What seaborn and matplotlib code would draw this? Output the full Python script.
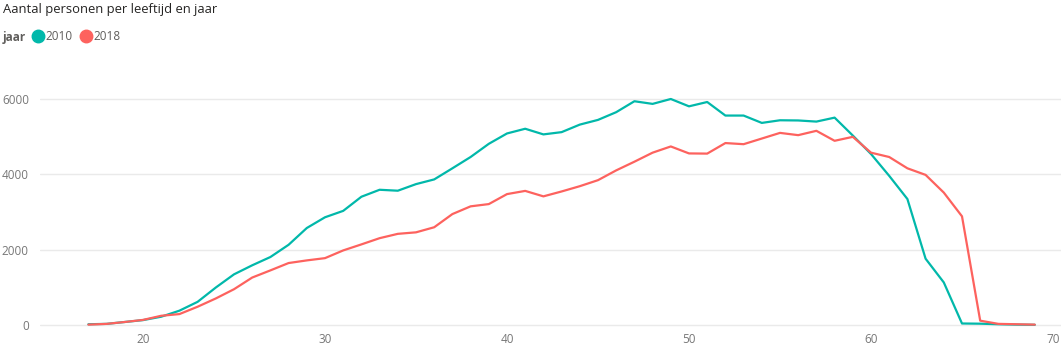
import pandas as pd
import matplotlib
matplotlib.use('Agg')
import matplotlib.pyplot as plt
from matplotlib.lines import Line2D
import seaborn as sns

# Age (leeftijd) and number of persons per year
leeftijd = list(range(17, 70))
aantal_2010 = [20, 30, 80, 130, 220, 380, 615, 995, 1345, 1585, 1805, 2130, 2575, 2860, 3030,
               3405, 3590, 3565, 3740, 3865, 4160, 4460, 4810, 5085, 5210, 5060, 5120, 5320,
               5445, 5650, 5940, 5870, 6000, 5805, 5920, 5560, 5560, 5365, 5435, 5430, 5400,
               5505, 5030, 4540, 3960, 3345, 1760, 1130, 40, 35, 20, 10, 5]
aantal_2018 = [10, 30, 80, 135, 245, 290, 485, 705, 950, 1260, 1450, 1645, 1715, 1775, 1980,
               2140, 2305, 2420, 2460, 2595, 2945, 3150, 3210, 3475, 3560, 3415, 3545, 3685,
               3845, 4105, 4335, 4575, 4740, 4555, 4550, 4830, 4800, 4950, 5100, 5040, 5155,
               4890, 4995, 4575, 4460, 4160, 3985, 3515, 2885, 115, 30, 20, 10]
jaren = ['2010', '2018']
kleuren = ['#01B8AA', '#FD625E']

df = pd.DataFrame({
    'leeftijd': leeftijd * 2,
    'aantal': aantal_2010 + aantal_2018,
    'jaar': [jaren[0]] * len(leeftijd) + [jaren[1]] * len(leeftijd),
})

sns.set_style('white')
plt.rcParams['font.family'] = ['Open Sans', 'DejaVu Sans']

fig = plt.figure(figsize=(10.61, 3.56), dpi=100)
ax = fig.add_axes([40 / 1061, 29 / 356, 1 - 40 / 1061, 267 / 356])

sns.lineplot(data=df, x='leeftijd', y='aantal', hue='jaar', palette=kleuren,
             linewidth=1.6, legend=False, ax=ax)

ax.set_xlim(14.34, 70.44)
ax.set_ylim(-53, 7035)
ax.set_xticks([20, 30, 40, 50, 60, 70])
ax.set_yticks([0, 2000, 4000, 6000])
ax.set_xlabel('')
ax.set_ylabel('')
ax.grid(axis='y', color='#EAEAEA', linewidth=1)
ax.grid(axis='x', visible=False)
for s in ax.spines.values():
    s.set_visible(False)
ax.tick_params(axis='both', length=0, labelsize=8.5, labelcolor='#777777')
ax.tick_params(axis='y', pad=8)
ax.tick_params(axis='x', pad=4)

# Title
fig.text(3 / 1061, 1 - 9 / 356, 'Aantal personen per leeftijd en jaar',
         fontsize=9.4, color='#252423', va='center', ha='left')

# Legend: "jaar" label followed by circle markers
fig.text(3 / 1061, 1 - 37 / 356, 'jaar', fontsize=8.5, fontweight='bold',
         color='#605E5C', va='center', ha='left')
handles = [Line2D([], [], marker='o', linestyle='', markersize=9, color=c) for c in kleuren]
fig.legend(handles, jaren, loc='center left', bbox_to_anchor=(31 / 1061, 1 - 37 / 356),
           ncol=2, frameon=False, fontsize=8.5, labelcolor='#605E5C',
           handletextpad=0.0, columnspacing=0.55, borderaxespad=0, borderpad=0,
           handlelength=1.2)

fig.savefig('out.png', dpi=100)
